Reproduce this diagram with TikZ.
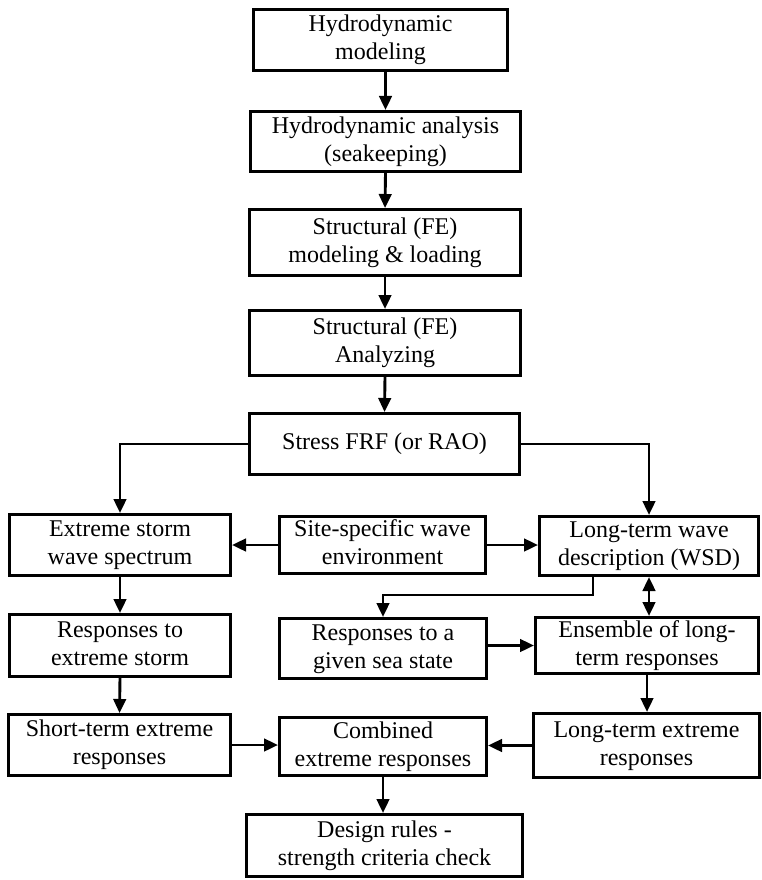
\documentclass[tikz,border=0pt]{standalone}
\usepackage{fontspec}
\setmainfont{Liberation Serif}
\usetikzlibrary{arrows.meta}
\tikzset{
  box/.style={draw, line width=2.9pt, align=center, inner sep=0pt,
    font=\fontsize{24}{28}\selectfont,
    execute at begin node=\strut, execute at end node=\strut},
  arr/.style={line width=2.9pt, -{Triangle[length=14pt,width=12.5pt]}},
  darr/.style={line width=2.9pt, {Triangle[length=14pt,width=12.5pt]}-{Triangle[length=14pt,width=12.5pt]}}
}
% line break that keeps every line at full strut height
\newcommand{\brk}{\strut\\\strut}
% box given by its left, right, top and bottom edges (px, y downward)
\newcommand{\pbox}[6]{%
  \node[box, minimum width={#3-#2-2.9pt}, minimum height={#5-#4-2.9pt}]
    (#1) at ({(#2+#3)/2},{(#4+#5)/2}) {#6};}
\begin{document}
\begin{tikzpicture}[x=1pt,y=-1pt]
\useasboundingbox (0,0) rectangle (762,880);

% main chain
\pbox{hm}{252}{509}{8}{72}{Hydrodynamic\brk modeling}
\pbox{ha}{249}{522}{110}{173}{Hydrodynamic analysis\brk (seakeeping)}
\pbox{sm}{248}{522}{208}{277}{Structural (FE)\brk modeling \& loading}
\pbox{sa}{248}{522}{309}{377}{Structural (FE)\brk Analyzing}
\pbox{frf}{248}{521}{412}{476}{Stress FRF (or RAO)}

% wave environment row
\pbox{ext}{8}{232}{513}{577}{Extreme storm\brk wave spectrum}
\pbox{site}{278}{487}{515}{575}{Site-specific wave\brk environment}
\pbox{wsd}{538}{760}{515}{577}{Long-term wave\brk description (WSD)}

% response row
\pbox{rext}{8}{232}{613}{678}{Responses to\brk extreme storm}
\pbox{rsea}{278}{488}{617}{680}{Responses to a\brk given sea state}
\pbox{ens}{534}{760}{616}{675}{Ensemble of long-\brk term responses}

% extreme value row
\pbox{st}{7}{232}{713}{777}{Short-term extreme\brk responses}
\pbox{comb}{278}{488}{716}{777}{Combined\brk extreme responses}
\pbox{lt}{532}{761}{712}{779}{Long-term extreme\brk responses}

\pbox{dr}{245}{524}{813}{878}{Design rules -\brk strength criteria check}

% connectors
\draw[arr] (hm.south -| ha.north) -- (ha.north);
\draw[arr] (ha.south) -- (sm.north);
\draw[arr] (sm.south) -- (sa.north);
\draw[arr] (sa.south) -- (frf.north);
\draw[arr] (frf.west) -| (ext.north);
\draw[arr] (frf.east) -| (wsd.north);
\draw[arr] (site.west) -- (site.west -| ext.east);
\draw[arr] (site.east) -- (site.east -| wsd.west);
\draw[arr] (ext.south) -- (rext.north);
\coordinate (bend) at (593,595);
\draw[arr] (bend |- wsd.south) -- (bend) -| (rsea.north);
\draw[darr] (wsd.south) -- (wsd.south |- ens.north);
\draw[arr] (ens.west -| rsea.east) -- (ens.west);
\draw[arr] (rext.south) -- (st.north);
\draw[arr] (ens.south) -- (ens.south |- lt.north);
\draw[arr] (st.east) -- (st.east -| comb.west);
\draw[arr] (lt.west) -- (lt.west -| comb.east);
\draw[arr] (comb.south) -- (comb.south |- dr.north);
\end{tikzpicture}
\end{document}
